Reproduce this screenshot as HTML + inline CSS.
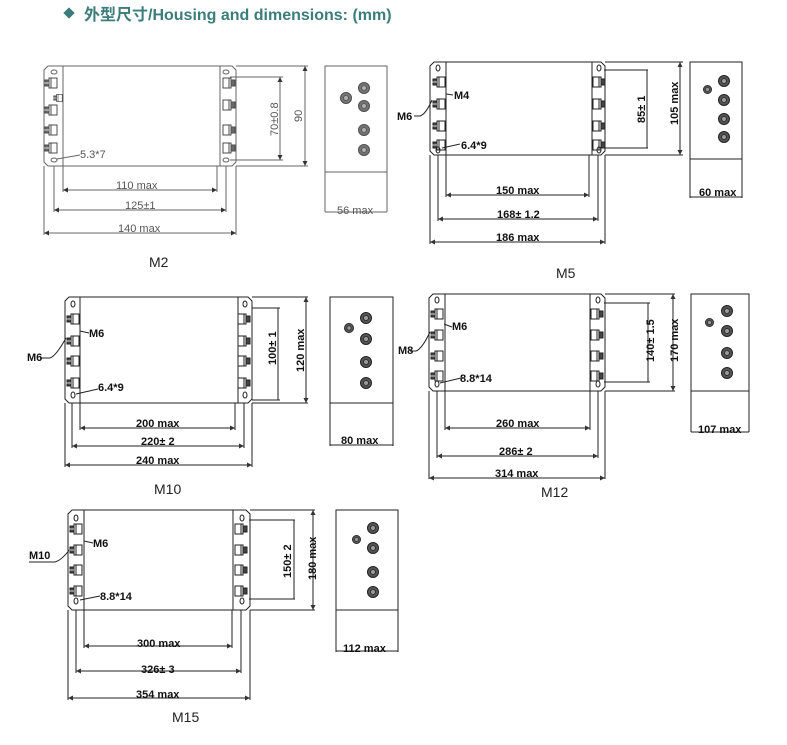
<!DOCTYPE html>
<html><head><meta charset="utf-8"><style>
html,body{margin:0;padding:0;background:#fff;}
svg{display:block;}
text{font-family:"Liberation Sans",Arial,sans-serif;}
.h{font-family:"Liberation Sans","Noto Sans CJK SC",sans-serif;font-weight:bold;font-size:16px;fill:#3b7d7a;}
.l{stroke:#222;stroke-width:1;fill:none;}
.g{stroke:#666;stroke-width:1;fill:none;}
.t{font-size:11px;fill:#111;font-weight:bold;}
.tg{font-size:11px;fill:#555;}
.lb{font-size:14px;fill:#222;}
</style></head><body>
<svg width="787" height="745" viewBox="0 0 787 745" xmlns="http://www.w3.org/2000/svg">
<defs>
<symbol id="tl" viewBox="0 0 14 12" width="14" height="12" overflow="visible">
<rect x="5" y="1" width="8" height="10" fill="none" stroke="#222"/>
<rect x="1" y="3" width="4" height="6" fill="#444" stroke="#222"/>
<line x1="7" y1="1" x2="7" y2="11" stroke="#222"/>
<line x1="0" y1="6" x2="5" y2="6" stroke="#fff" stroke-width="0.8"/>
</symbol>
<symbol id="tr" viewBox="0 0 14 12" width="14" height="12" overflow="visible">
<rect x="1" y="1" width="8" height="10" fill="none" stroke="#222"/>
<rect x="9" y="3" width="4" height="6" fill="#444" stroke="#222"/>
<line x1="7" y1="1" x2="7" y2="11" stroke="#222"/>
</symbol>
<symbol id="bolt" viewBox="0 0 12 12" width="12" height="12" overflow="visible">
<circle cx="6" cy="6" r="5.5" fill="#555" stroke="#222"/>
<circle cx="6" cy="6" r="2.5" fill="#999" stroke="#222" stroke-width="0.8"/>
</symbol>
<marker id="a" viewBox="0 0 6 6" refX="6" refY="3" markerWidth="5" markerHeight="5" orient="auto-start-reverse"><path d="M0,0L6,3L0,6z" fill="#333"/></marker>
</defs>

<rect x="65" y="9" width="8" height="8" fill="#3b7d7a" transform="rotate(45 69 13)"/>
<text x="84" y="20" class="h">外型尺寸/Housing and dimensions: (mm)</text>

<!-- M2 -->
<g class="g">
<path d="M48,66 H232 L236,70 V162 L232,166 H48 L44,162 V70 Z"/>
<line x1="63" y1="66" x2="63" y2="166"/><line x1="220" y1="66" x2="220" y2="166"/>
<ellipse cx="54" cy="72" rx="3" ry="2"/><ellipse cx="54" cy="160" rx="3" ry="2"/>
<ellipse cx="226" cy="72" rx="3" ry="2"/><ellipse cx="226" cy="160" rx="3" ry="2"/>
<line x1="236" y1="66" x2="308" y2="66"/><line x1="236" y1="166" x2="308" y2="166"/>
<line x1="305" y1="66" x2="305" y2="166" marker-start="url(#a)" marker-end="url(#a)"/>
<line x1="230" y1="77" x2="283" y2="77"/><line x1="230" y1="160" x2="283" y2="160"/>
<line x1="280" y1="77" x2="280" y2="160" marker-start="url(#a)" marker-end="url(#a)"/>
<line x1="63" y1="166" x2="63" y2="192"/><line x1="217" y1="166" x2="217" y2="192"/>
<line x1="63" y1="190" x2="217" y2="190" marker-start="url(#a)" marker-end="url(#a)"/>
<line x1="54" y1="166" x2="54" y2="212"/><line x1="226" y1="166" x2="226" y2="212"/>
<line x1="54" y1="210" x2="226" y2="210" marker-start="url(#a)" marker-end="url(#a)"/>
<line x1="44" y1="166" x2="44" y2="235"/><line x1="236" y1="166" x2="236" y2="235"/>
<line x1="44" y1="233" x2="236" y2="233" marker-start="url(#a)" marker-end="url(#a)"/>
<line x1="57" y1="159" x2="80" y2="155"/>
<rect x="325" y="66" width="62" height="106"/><line x1="325" y1="172" x2="325" y2="212"/><line x1="387" y1="172" x2="387" y2="212"/>
<line x1="325" y1="212" x2="387" y2="212"/>
</g>
<g opacity="0.8">
<use href="#tl" x="44" y="77"/><use href="#tl" x="44" y="104"/><use href="#tl" x="44" y="124"/><use href="#tl" x="44" y="142"/>
<use href="#tl" x="53" y="93" width="10" height="10"/>
<use href="#tr" x="222" y="77"/><use href="#tr" x="222" y="99"/><use href="#tr" x="222" y="124"/><use href="#tr" x="222" y="142"/>
<use href="#bolt" x="340" y="92"/><use href="#bolt" x="358" y="82"/><use href="#bolt" x="358" y="100"/><use href="#bolt" x="358" y="124"/><use href="#bolt" x="358" y="144"/>
</g>
<g class="tg">
<text x="80" y="158">5.3*7</text>
<text x="116" y="189">110 max</text>
<text x="125" y="209">125±1</text>
<text x="118" y="232">140 max</text>
<text x="337" y="214">56 max</text>
<text transform="translate(278,136) rotate(-90)">70±0.8</text>
<text transform="translate(302,122) rotate(-90)">90</text>
</g>
<text x="149" y="267" class="lb">M2</text>

<!-- M5 -->
<g class="l">
<path d="M434,62 H601 L605,66 V151 L601,155 H434 L430,151 V66 Z"/>
<line x1="446" y1="62" x2="446" y2="155"/><line x1="592" y1="62" x2="592" y2="155"/>
<ellipse cx="438" cy="68" rx="2" ry="3"/><ellipse cx="438" cy="150" rx="2" ry="3"/>
<ellipse cx="599" cy="68" rx="2" ry="3"/><ellipse cx="599" cy="150" rx="2" ry="3"/>
<line x1="605" y1="62" x2="683" y2="62"/><line x1="605" y1="155" x2="683" y2="155"/>
<line x1="680" y1="62" x2="680" y2="155" marker-start="url(#a)" marker-end="url(#a)"/>
<line x1="604" y1="70" x2="648" y2="70"/><line x1="604" y1="148" x2="648" y2="148"/>
<line x1="647" y1="70" x2="647" y2="148"/>
<line x1="446" y1="155" x2="446" y2="197"/><line x1="589" y1="155" x2="589" y2="197"/>
<line x1="446" y1="195" x2="589" y2="195" marker-start="url(#a)" marker-end="url(#a)"/>
<line x1="438" y1="155" x2="438" y2="221"/><line x1="598" y1="155" x2="598" y2="221"/>
<line x1="438" y1="219" x2="598" y2="219" marker-start="url(#a)" marker-end="url(#a)"/>
<line x1="430" y1="155" x2="430" y2="244"/><line x1="605" y1="155" x2="605" y2="244"/>
<line x1="430" y1="242" x2="605" y2="242" marker-start="url(#a)" marker-end="url(#a)"/>
<path d="M414,116 H420 Q426,114 432,100"/>
<line x1="446" y1="94" x2="453" y2="95"/>
<line x1="442" y1="148" x2="460" y2="144"/>
<rect x="690" y="62" width="52" height="97"/><line x1="690" y1="159" x2="690" y2="198"/><line x1="742" y1="159" x2="742" y2="198"/>
<line x1="690" y1="197" x2="742" y2="197"/>
</g>
<use href="#tl" x="432" y="76"/><use href="#tl" x="432" y="98"/><use href="#tl" x="432" y="120"/><use href="#tl" x="432" y="139"/>
<use href="#tr" x="592" y="76"/><use href="#tr" x="592" y="98"/><use href="#tr" x="592" y="120"/><use href="#tr" x="592" y="139"/>
<use href="#bolt" x="703" y="85" width="9" height="9"/><use href="#bolt" x="718" y="75"/><use href="#bolt" x="718" y="94"/><use href="#bolt" x="718" y="113"/><use href="#bolt" x="718" y="131"/>
<g class="t">
<text x="397" y="120">M6</text>
<text x="454" y="99">M4</text>
<text x="461" y="149">6.4*9</text>
<text x="496" y="194">150 max</text>
<text x="497" y="218">168± 1.2</text>
<text x="496" y="241">186 max</text>
<text x="699" y="196">60 max</text>
<text transform="translate(645,123) rotate(-90)">85± 1</text>
<text transform="translate(678,125) rotate(-90)">105 max</text>
</g>
<text x="556" y="278" class="lb">M5</text>

<!-- M10 -->
<g class="l">
<path d="M69,297 H248 L252,301 V399 L248,403 H69 L65,399 V301 Z"/>
<line x1="80" y1="297" x2="80" y2="403"/><line x1="238" y1="297" x2="238" y2="403"/>
<ellipse cx="73" cy="304" rx="2" ry="3"/><ellipse cx="73" cy="395" rx="2" ry="3"/>
<ellipse cx="245" cy="304" rx="2" ry="3"/><ellipse cx="245" cy="395" rx="2" ry="3"/>
<line x1="252" y1="297" x2="308" y2="297"/><line x1="252" y1="403" x2="308" y2="403"/>
<line x1="306" y1="297" x2="306" y2="403" marker-start="url(#a)" marker-end="url(#a)"/>
<line x1="252" y1="308" x2="280" y2="308"/><line x1="252" y1="400" x2="280" y2="400"/>
<line x1="278" y1="308" x2="278" y2="400"/>
<line x1="80" y1="403" x2="80" y2="430"/><line x1="235" y1="403" x2="235" y2="430"/>
<line x1="80" y1="428" x2="235" y2="428" marker-start="url(#a)" marker-end="url(#a)"/>
<line x1="72" y1="403" x2="72" y2="448"/><line x1="244" y1="403" x2="244" y2="448"/>
<line x1="72" y1="446" x2="244" y2="446" marker-start="url(#a)" marker-end="url(#a)"/>
<line x1="65" y1="403" x2="65" y2="467"/><line x1="252" y1="403" x2="252" y2="467"/>
<line x1="65" y1="465" x2="252" y2="465" marker-start="url(#a)" marker-end="url(#a)"/>
<path d="M40,358 H50 Q56,356 66,338"/>
<line x1="80" y1="331" x2="89" y2="333"/>
<line x1="76" y1="394" x2="98" y2="389"/>
<rect x="330" y="297" width="63" height="106"/><line x1="330" y1="403" x2="330" y2="446"/><line x1="393" y1="403" x2="393" y2="446"/>
<line x1="330" y1="445" x2="393" y2="445"/>
</g>
<use href="#tl" x="66" y="313"/><use href="#tl" x="66" y="335"/><use href="#tl" x="66" y="355"/><use href="#tl" x="66" y="377"/>
<use href="#tr" x="237" y="313"/><use href="#tr" x="237" y="335"/><use href="#tr" x="237" y="355"/><use href="#tr" x="237" y="377"/>
<use href="#bolt" x="344" y="323" width="10" height="10"/><use href="#bolt" x="360" y="312"/><use href="#bolt" x="360" y="333"/><use href="#bolt" x="360" y="356"/><use href="#bolt" x="360" y="377"/>
<g class="t">
<text x="27" y="361">M6</text>
<text x="89" y="337">M6</text>
<text x="98" y="391">6.4*9</text>
<text x="136" y="427">200 max</text>
<text x="141" y="445">220± 2</text>
<text x="136" y="464">240 max</text>
<text x="341" y="444">80 max</text>
<text transform="translate(276,365) rotate(-90)">100± 1</text>
<text transform="translate(304,372) rotate(-90)">120 max</text>
</g>
<text x="154" y="494" class="lb">M10</text>

<!-- M12 -->
<g class="l">
<path d="M433,294 H601 L605,298 V387 L601,391 H433 L429,387 V298 Z"/>
<line x1="445" y1="294" x2="445" y2="391"/><line x1="590" y1="294" x2="590" y2="391"/>
<ellipse cx="437" cy="300" rx="2" ry="3"/><ellipse cx="437" cy="384" rx="2" ry="3"/>
<ellipse cx="598" cy="300" rx="2" ry="3"/><ellipse cx="598" cy="384" rx="2" ry="3"/>
<line x1="605" y1="294" x2="675" y2="294"/><line x1="605" y1="391" x2="675" y2="391"/>
<line x1="673" y1="294" x2="673" y2="391" marker-start="url(#a)" marker-end="url(#a)"/>
<line x1="604" y1="303" x2="650" y2="303"/><line x1="604" y1="382" x2="650" y2="382"/>
<line x1="648" y1="303" x2="648" y2="382"/>
<line x1="445" y1="391" x2="445" y2="430"/><line x1="590" y1="391" x2="590" y2="430"/>
<line x1="445" y1="428" x2="590" y2="428" marker-start="url(#a)" marker-end="url(#a)"/>
<line x1="437" y1="391" x2="437" y2="458"/><line x1="598" y1="391" x2="598" y2="458"/>
<line x1="437" y1="456" x2="598" y2="456" marker-start="url(#a)" marker-end="url(#a)"/>
<line x1="429" y1="391" x2="429" y2="479"/><line x1="605" y1="391" x2="605" y2="479"/>
<line x1="429" y1="478" x2="605" y2="478" marker-start="url(#a)" marker-end="url(#a)"/>
<path d="M410,351 H416 Q422,349 430,332"/>
<line x1="444" y1="324" x2="452" y2="327"/>
<line x1="440" y1="383" x2="461" y2="378"/>
<rect x="691" y="294" width="58" height="97"/><line x1="691" y1="391" x2="691" y2="432"/><line x1="749" y1="391" x2="749" y2="432"/>
<line x1="691" y1="432" x2="749" y2="432"/>
</g>
<use href="#tl" x="430" y="308"/><use href="#tl" x="430" y="329"/><use href="#tl" x="430" y="350"/><use href="#tl" x="430" y="370"/>
<use href="#tr" x="590" y="308"/><use href="#tr" x="590" y="329"/><use href="#tr" x="590" y="350"/><use href="#tr" x="590" y="370"/>
<use href="#bolt" x="705" y="318" width="9" height="9"/><use href="#bolt" x="721" y="305"/><use href="#bolt" x="721" y="325"/><use href="#bolt" x="721" y="347"/><use href="#bolt" x="721" y="367"/>
<g class="t">
<text x="398" y="354">M8</text>
<text x="452" y="330">M6</text>
<text x="460" y="382">8.8*14</text>
<text x="496" y="427">260 max</text>
<text x="499" y="455">286± 2</text>
<text x="495" y="477">314 max</text>
<text x="698" y="433">107 max</text>
<text transform="translate(654,362) rotate(-90)">140± 1.5</text>
<text transform="translate(678,362) rotate(-90)">170 max</text>
</g>
<text x="541" y="497" class="lb">M12</text>

<!-- M15 -->
<g class="l">
<path d="M72,510 H246 L250,514 V606 L246,610 H72 L68,606 V514 Z"/>
<line x1="84" y1="510" x2="84" y2="610"/><line x1="233" y1="510" x2="233" y2="610"/>
<ellipse cx="76" cy="518" rx="2" ry="3"/><ellipse cx="76" cy="601" rx="2" ry="3"/>
<ellipse cx="242" cy="518" rx="2" ry="3"/><ellipse cx="242" cy="601" rx="2" ry="3"/>
<line x1="250" y1="510" x2="315" y2="510"/><line x1="250" y1="610" x2="315" y2="610"/>
<line x1="313" y1="510" x2="313" y2="610" marker-start="url(#a)" marker-end="url(#a)"/>
<line x1="249" y1="520" x2="295" y2="520"/><line x1="249" y1="599" x2="295" y2="599"/>
<line x1="294" y1="520" x2="294" y2="599"/>
<line x1="84" y1="610" x2="84" y2="648"/><line x1="232" y1="610" x2="232" y2="648"/>
<line x1="84" y1="646" x2="232" y2="646" marker-start="url(#a)" marker-end="url(#a)"/>
<line x1="76" y1="610" x2="76" y2="673"/><line x1="241" y1="610" x2="241" y2="673"/>
<line x1="76" y1="671" x2="241" y2="671" marker-start="url(#a)" marker-end="url(#a)"/>
<line x1="68" y1="610" x2="68" y2="700"/><line x1="250" y1="610" x2="250" y2="700"/>
<line x1="68" y1="698" x2="250" y2="698" marker-start="url(#a)" marker-end="url(#a)"/>
<path d="M29,562 H55 Q62,560 70,549"/>
<line x1="84" y1="541" x2="93" y2="543"/>
<line x1="80" y1="600" x2="100" y2="596"/>
<rect x="336" y="510" width="62" height="100"/><line x1="336" y1="610" x2="336" y2="652"/><line x1="398" y1="610" x2="398" y2="652"/>
<line x1="336" y1="651" x2="398" y2="651"/>
</g>
<use href="#tl" x="69" y="523"/><use href="#tl" x="69" y="544"/><use href="#tl" x="69" y="564"/><use href="#tl" x="69" y="585"/>
<use href="#tr" x="234" y="523"/><use href="#tr" x="234" y="544"/><use href="#tr" x="234" y="564"/><use href="#tr" x="234" y="585"/>
<use href="#bolt" x="352" y="535" width="9" height="9"/><use href="#bolt" x="367" y="522"/><use href="#bolt" x="367" y="542"/><use href="#bolt" x="367" y="566"/><use href="#bolt" x="367" y="586"/>
<g class="t">
<text x="29" y="559">M10</text>
<text x="93" y="547">M6</text>
<text x="100" y="600">8.8*14</text>
<text x="137" y="647">300 max</text>
<text x="141" y="673">326± 3</text>
<text x="136" y="698">354 max</text>
<text x="343" y="652">112 max</text>
<text transform="translate(291,578) rotate(-90)">150± 2</text>
<text transform="translate(316,580) rotate(-90)">180 max</text>
</g>
<text x="172" y="722" class="lb">M15</text>
</svg>
</body></html>
